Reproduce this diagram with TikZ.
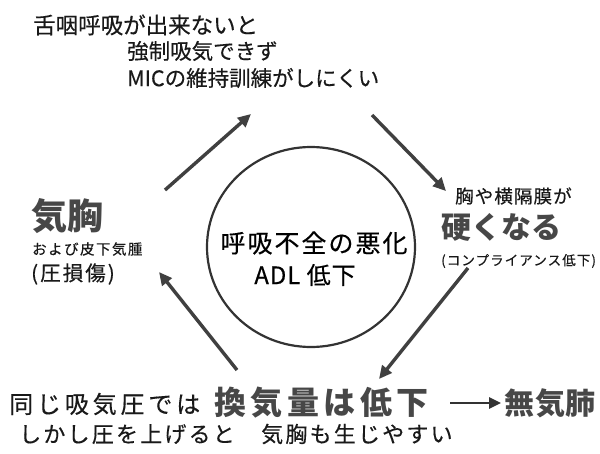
\documentclass[tikz,border=0pt]{standalone}
\usepackage{fontspec}
\setmainfont{Noto Sans CJK JP}
\usetikzlibrary{arrows.meta}
\newcommand{\fs}[2]{\fontsize{#1}{#1}\selectfont\addfontfeatures{LetterSpace=#2}}
\newcommand{\fsb}[2]{\fontsize{#1}{#1}\selectfont\addfontfeatures{LetterSpace=#2,FakeBold=0.35}}
\tikzset{
  txt/.style={anchor=west, inner sep=0pt, text=black!90},
  bigtxt/.style={anchor=west, inner sep=0pt, text=black!72, font=\bfseries},
  cyc/.style={draw=black!75, line width=3.4pt,
    -{Triangle[length=13pt,width=12pt]}},
}
\begin{document}
\begin{tikzpicture}[x=1pt,y=-1pt]
\useasboundingbox (0,0) rectangle (600,453);
\fill[white] (0,0) rectangle (600,453);
% top text
\node[txt] (l1) at (33,25) {\fsb{22.5}{0}舌咽呼吸が出来ないと};
\node[txt] (l2) at (127,51) {\fsb{21.5}{0}強制吸気できず};
\node[txt] (l3) at (127,78) {\fsb{21.5}{0}MICの維持訓練がしにくい};
% left
\node[bigtxt] (kk) at (31,216) {\fs{36}{0}気胸};
\node[txt] (kk2) at (32,249) {\fsb{14.5}{10}および皮下気腫};
\node[txt] (kk3) at (31,274) {\fsb{20.5}{10}(圧損傷)};
% right
\node[txt] (r1) at (455,196) {\fsb{18.5}{6}胸や横隔膜が};
\node[bigtxt] (r2) at (441,227) {\fs{30}{0}硬くなる};
\node[txt] (r3) at (441,261) {\fsb{13.5}{8}(コンプライアンス低下)};
% center
\draw[line width=2.2pt, black!80] (311,247) ellipse [x radius=104, y radius=100];
\node[inner sep=0pt] (c1) at (314,243) {\fsb{25}{8}呼吸不全の悪化};
\node[inner sep=0pt] (c2) at (305,275) {\fsb{24}{4}ADL 低下};
% bottom
\node[txt] (b1) at (9,404) {\fsb{24}{16}同じ吸気圧では};
\node[bigtxt] (b2) at (214,403) {\fs{32}{14}換気量は低下};
\node[bigtxt] (b3) at (504,403) {\fs{30}{3}無気肺};
\node[txt] (b4) at (19,434) {\fsb{22}{10}しかし圧を上げると　気胸も生じやすい};
\coordinate (ba) at (450,403);
\coordinate (bb) at (501,403);
\draw[draw=black!80, line width=2.6pt, -{Triangle[length=12pt,width=11pt]}]
  (ba) -- (bb);
% cycle arrows
\coordinate (a1s) at (165,190); \coordinate (a1e) at (251,114);
\coordinate (a2s) at (372,115); \coordinate (a2e) at (446,191);
\coordinate (a3s) at (468,268); \coordinate (a3e) at (379,379);
\coordinate (a4s) at (237,370); \coordinate (a4e) at (159,272);
\draw[cyc] (a1s) -- (a1e);
\draw[cyc] (a2s) -- (a2e);
\draw[cyc] (a3s) -- (a3e);
\draw[cyc] (a4s) -- (a4e);
\end{tikzpicture}
\end{document}
